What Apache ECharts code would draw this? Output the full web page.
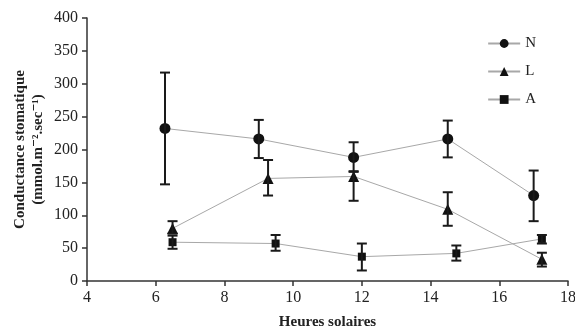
<!DOCTYPE html>
<html>
<head>
    <meta charset="UTF-8">
    <title>Conductance stomatique</title>
    <script src="https://cdn.jsdelivr.net/npm/echarts@6/dist/echarts.min.js"></script>
</head>
<body style="margin:0">
<div id="main" style="width: 575px;height:332px;"></div>
<script type="text/javascript">
    // séries
    let hoursN = [6.27, 9.0, 11.76, 14.5, 17.0];
    let valuesN = [232, 216, 188, 216, 130];
    let lowN = [147, 187, 166, 188, 91];
    let highN = [317, 245, 211, 244, 168];

    let hoursL = [6.49, 9.27, 11.76, 14.5, 17.24];
    let valuesL = [80, 156, 159, 109, 33];
    let lowL = [72, 130, 122, 84, 22];
    let highL = [91, 184, 167, 135, 43];

    let hoursA = [6.49, 9.49, 12.0, 14.75, 17.24];
    let valuesA = [59, 57, 37, 42, 64];
    let lowA = [49, 46, 16, 31, 57];
    let highA = [69, 70, 57, 54, 70];

    let serif = "'Liberation Serif', 'DejaVu Serif', serif";

    function pts(xs, ys) {
        return xs.map((x, i) => [x, ys[i]]);
    }

    function bars(xs, lo, hi) {
        return xs.map((x, i) => [x, lo[i], hi[i]]);
    }

    // barres d'erreur
    function renderError(params, api) {
        let x = api.value(0);
        let top = api.coord([x, api.value(2)]);
        let bot = api.coord([x, api.value(1)]);
        let w = 5;
        let st = {stroke: '#1a1a1a', lineWidth: 2};
        return {
            type: 'group',
            children: [
                {type: 'line', shape: {x1: top[0], y1: top[1], x2: bot[0], y2: bot[1]}, style: st},
                {type: 'line', shape: {x1: top[0] - w, y1: top[1], x2: top[0] + w, y2: top[1]}, style: st},
                {type: 'line', shape: {x1: bot[0] - w, y1: bot[1], x2: bot[0] + w, y2: bot[1]}, style: st}
            ]
        };
    }

    function lineSeries(name, data, symbol, size) {
        return {
            name: name,
            type: 'line',
            data: data,
            symbol: symbol,
            symbolSize: size,
            z: 3,
            lineStyle: {color: '#a8a8a8', width: 1},
            itemStyle: {color: '#111'}
        };
    }

    function errSeries(data) {
        return {
            type: 'custom',
            renderItem: renderError,
            data: data,
            z: 4,
            silent: true
        };
    }

    var myChart = echarts.init(document.getElementById('main'));

    let option = {
        animation: false,
        backgroundColor: '#fff',
        grid: {left: 87, right: 7, top: 18, bottom: 51, containLabel: false, outerBoundsMode: 'none'},
        legend: {
            orient: 'vertical',
            right: 34,
            top: 31,
            itemWidth: 32,
            itemHeight: 11,
            itemGap: 13,
            textStyle: {fontFamily: serif, fontSize: 15, color: '#222'},
            data: ['N', 'L', 'A']
        },
        xAxis: {
            type: 'value',
            min: 4,
            max: 18,
            interval: 2,
            name: 'Heures solaires',
            nameLocation: 'middle',
            nameGap: 34,
            nameMoveOverlap: false,
            nameTextStyle: {fontFamily: serif, fontSize: 15, fontWeight: 'bold', color: '#222'},
            splitLine: {show: false},
            axisLine: {lineStyle: {color: '#333', width: 1.5}},
            axisTick: {show: true, length: 5, lineStyle: {color: '#333', width: 1.5}},
            axisLabel: {fontFamily: serif, fontSize: 16, color: '#222', margin: 9}
        },
        yAxis: {
            type: 'value',
            min: 0,
            max: 400,
            interval: 50,
            name: 'Conductance stomatique\n(mmol.m⁻².sec⁻¹)',
            nameLocation: 'middle',
            nameRotate: 90,
            nameGap: 40,
            nameMoveOverlap: false,
            nameTextStyle: {fontFamily: serif, fontSize: 15, fontWeight: 'bold', color: '#222', lineHeight: 18},
            splitLine: {show: false},
            axisLine: {show: true, lineStyle: {color: '#333', width: 1.5}},
            axisTick: {show: true, length: 5, lineStyle: {color: '#333', width: 1.5}},
            axisLabel: {fontFamily: serif, fontSize: 16, color: '#222', margin: 9}
        },
        series: [
            lineSeries('N', pts(hoursN, valuesN), 'circle', 11),
            lineSeries('L', pts(hoursL, valuesL), 'triangle', 11),
            lineSeries('A', pts(hoursA, valuesA), 'rect', 8),
            errSeries(bars(hoursN, lowN, highN)),
            errSeries(bars(hoursL, lowL, highL)),
            errSeries(bars(hoursA, lowA, highA))
        ]
    };

    myChart.setOption(option);
</script>
</body>
</html>
